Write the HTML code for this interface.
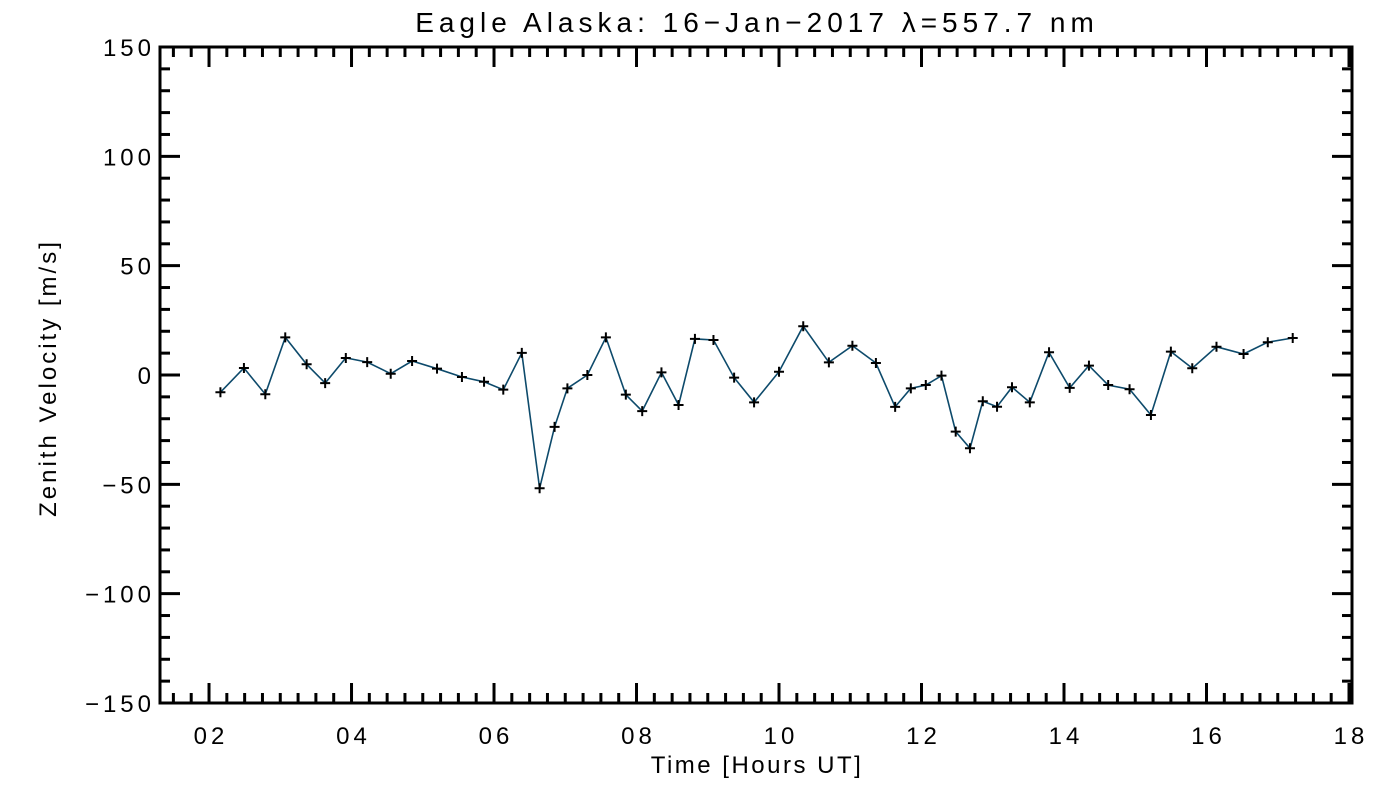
<!DOCTYPE html>
<html><head><meta charset="utf-8"><style>
html,body{margin:0;padding:0;background:#fff;}
svg text{font-family:"Liberation Sans",sans-serif;fill:#000;}
</style></head><body>
<svg id="chart" width="1400" height="800" xmlns="http://www.w3.org/2000/svg">
<text x="757" y="32" font-size="28" letter-spacing="5" text-anchor="middle">Eagle Alaska: 16−Jan−2017 λ=557.7 nm</text>
<text x="757" y="773" font-size="24" letter-spacing="2.5" text-anchor="middle">Time [Hours UT]</text>
<text x="0" y="0" font-size="24" letter-spacing="3" text-anchor="middle" transform="translate(56,378) rotate(-90)">Zenith Velocity [m/s]</text>
<g id="axes"></g>
<g id="series"></g>
</svg>
<script>
const hours=[2.16,2.49,2.79,3.07,3.37,3.63,3.92,4.22,4.55,4.85,5.20,5.55,5.86,6.13,6.39,6.64,6.85,7.03,7.31,7.57,7.85,8.08,8.35,8.59,8.82,9.08,9.37,9.65,10.00,10.34,10.70,11.03,11.36,11.63,11.85,12.06,12.28,12.48,12.68,12.86,13.06,13.27,13.52,13.79,14.08,14.35,14.62,14.92,15.22,15.50,15.80,16.14,16.52,16.86,17.21];
const velocity=[-7.9,3.2,-8.8,17.2,4.9,-3.7,7.8,5.9,0.6,6.4,2.9,-0.9,-3.1,-6.7,10.1,-51.8,-23.7,-6.1,0,17.2,-9.0,-16.5,1.2,-13.7,16.5,16.0,-1.2,-12.5,1.5,22.3,5.8,13.4,5.5,-14.6,-6.1,-4.6,-0.3,-25.9,-33.5,-12.0,-14.5,-5.6,-12.5,10.4,-5.9,4.3,-4.6,-6.5,-18.3,10.7,3.1,12.9,9.6,15.0,16.9];
const xTickLabels=["02","04","06","08","10","12","14","16","18"];
const yTickLabels=["−150","−100","−50","0","50","100","150"];
const yTickValues=[-150,-100,-50,0,50,100,150];

const L=160,R=1352,T=47,B=703;
const xMin=1.312,xMax=18.042,yMin=-150,yMax=150;
const xs=h=>L+(h-xMin)/(xMax-xMin)*(R-L);
const ys=v=>B-(v-yMin)/(yMax-yMin)*(B-T);
const NS="http://www.w3.org/2000/svg";
const axes=document.getElementById('axes');
const ser=document.getElementById('series');
function mk(tag,attrs,parent){const e=document.createElementNS(NS,tag);for(const k in attrs)e.setAttribute(k,attrs[k]);parent.appendChild(e);return e;}

const frame=mk('rect',{x:L,y:T,width:R-L,height:B-T,fill:'none',stroke:'#000','stroke-width':3},axes);



for(let i=0;i<=64;i++){
  const h=2+i*0.25; if(h>xMax) break;
  const major=(i%8===0); const len=major?20:10; const x=xs(h);
  const t1=mk('line',{x1:x,y1:B,x2:x,y2:B-len,stroke:'#000','stroke-width':3},axes);
  
  
  const t2=mk('line',{x1:x,y1:T,x2:x,y2:T+len,stroke:'#000','stroke-width':3},axes);
  
  
}
for(let h=1.75;h>xMin;h-=0.25){const x=xs(h);
  const t=mk('line',{x1:x,y1:B,x2:x,y2:B-10,stroke:'#000','stroke-width':3},axes);
  
  
  const t2=mk('line',{x1:x,y1:T,x2:x,y2:T+10,stroke:'#000','stroke-width':3},axes);
  
  
}
xTickLabels.forEach((lab,i)=>{
  const tx=mk('text',{x:xs(2+2*i)+2,y:744,'font-size':24,'letter-spacing':4,'text-anchor':'middle'},axes);
  tx.textContent=lab;
  
  
});
for(let v=-150;v<=150;v+=10){
  const major=(v%50===0); const len=major?20:10; const y=ys(v);
  const t1=mk('line',{x1:L,y1:y,x2:L+len,y2:y,stroke:'#000','stroke-width':3},axes);
  
  
  const t2=mk('line',{x1:R,y1:y,x2:R-len,y2:y,stroke:'#000','stroke-width':3},axes);
  
  
}
yTickLabels.forEach((lab,i)=>{
  const tx=mk('text',{x:155,y:ys(yTickValues[i])+9,'font-size':24,'letter-spacing':4,'text-anchor':'end'},axes);
  tx.textContent=lab;
  
  
});
const pts=hours.map((h,i)=>xs(h).toFixed(1)+','+ys(velocity[i]).toFixed(1)).join(' ');
const pl=mk('polyline',{points:pts,fill:'none',stroke:'#0d4a6b','stroke-width':1.6},ser);


hours.forEach((h,i)=>{
  const x=xs(h),y=ys(velocity[i]);
  const p=mk('path',{d:`M${x-5},${y}H${x+5}M${x},${y-5}V${y+5}`,stroke:'#000','stroke-width':2},ser);
  
  
});
</script>
</body></html>
